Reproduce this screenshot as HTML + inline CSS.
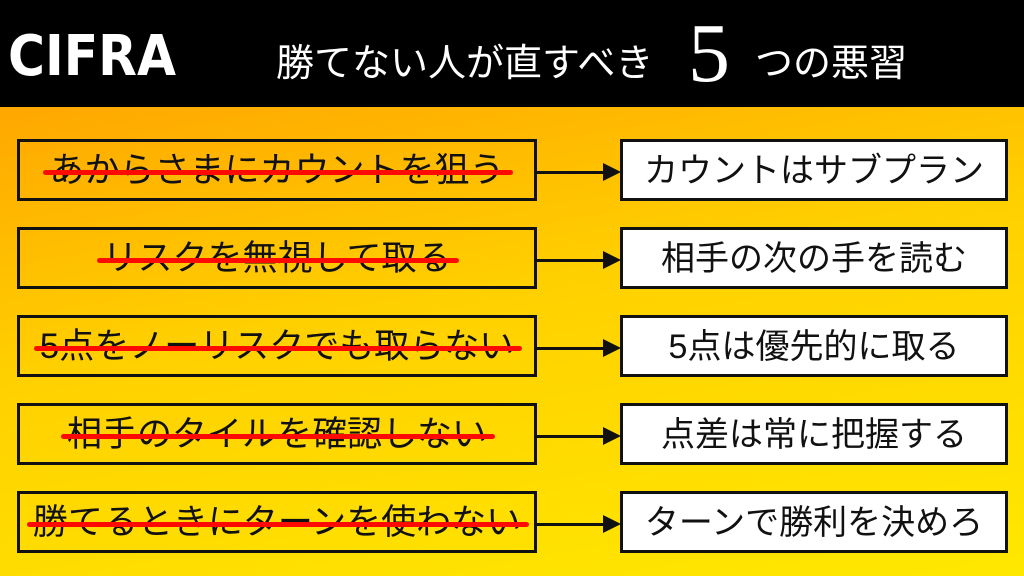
<!DOCTYPE html>
<html><head><meta charset="utf-8"><style>
body{margin:0;width:1024px;height:576px;overflow:hidden;position:relative;font-family:"Liberation Sans","Noto Sans CJK JP",sans-serif;background:linear-gradient(170deg,#ffa800 15%,#ffd000 50%,#ffe800 100%)}
.hd{position:absolute;left:0;top:0;width:1024px;height:107px;background:#000;color:#fff}
.logo{position:absolute;left:8px;top:24px;font-size:56px;font-weight:bold;font-family:"DejaVu Sans","Liberation Sans",sans-serif;transform:scaleX(0.9);transform-origin:left}
.tt{position:absolute;left:276px;top:32px;font-size:38px;white-space:nowrap}
.five{position:absolute;left:688px;top:12px;font-size:84px;font-family:"Liberation Serif",serif;line-height:1}
.tt2{position:absolute;left:755px;top:32px;font-size:38px;white-space:nowrap}
.l{position:absolute;left:17px;width:514px;height:56px;border:3px solid #111;text-align:center;font-size:35px;line-height:58px;white-space:nowrap;color:#111}
.l span{position:relative;display:inline-block}
.l span:after{content:"";position:absolute;left:-6px;right:-8px;top:50%;height:5px;background:#ff0a00;border-radius:3px;margin-top:-1px}
.r{position:absolute;left:620px;width:382px;height:56px;border:3px solid #111;background:#fff;text-align:center;font-size:34px;line-height:58px;white-space:nowrap;color:#111}
.a{position:absolute;left:537px;width:66px;height:3px;background:#111}
.a:after{content:"";position:absolute;right:-18px;top:-8px;border-left:18px solid #111;border-top:9px solid transparent;border-bottom:9px solid transparent}
</style></head><body>
<div class="hd"><div class="logo">CIFRA</div><div class="tt">勝てない人が直すべき</div><div class="five">5</div><div class="tt2">つの悪習</div></div>

<div class="l" style="top:139px"><span>あからさまにカウントを狙う</span></div>
<div class="a" style="top:171px"></div>
<div class="r" style="top:139px">カウントはサブプラン</div>

<div class="l" style="top:227px"><span>リスクを無視して取る</span></div>
<div class="a" style="top:259px"></div>
<div class="r" style="top:227px">相手の次の手を読む</div>

<div class="l" style="top:315px"><span>5点をノーリスクでも取らない</span></div>
<div class="a" style="top:347px"></div>
<div class="r" style="top:315px">5点は優先的に取る</div>

<div class="l" style="top:403px"><span>相手のタイルを確認しない</span></div>
<div class="a" style="top:435px"></div>
<div class="r" style="top:403px">点差は常に把握する</div>

<div class="l" style="top:491px"><span>勝てるときにターンを使わない</span></div>
<div class="a" style="top:523px"></div>
<div class="r" style="top:491px">ターンで勝利を決めろ</div>
</body></html>
